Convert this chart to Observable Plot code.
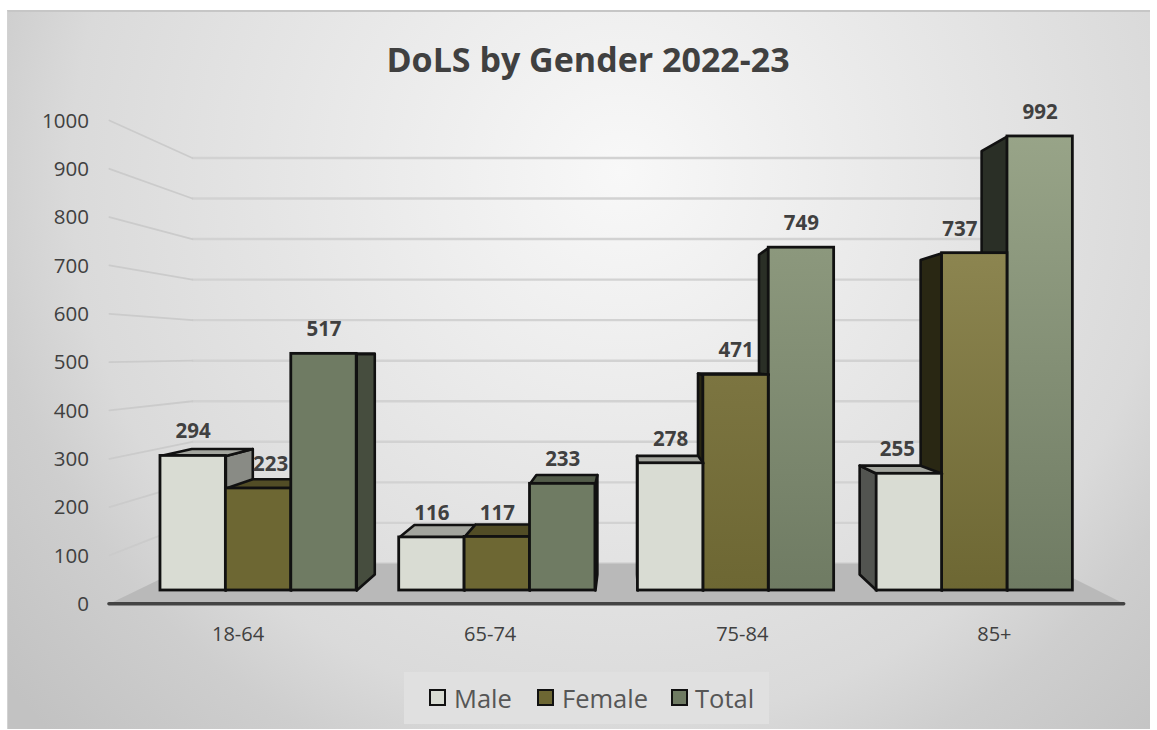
<!DOCTYPE html>
<html>
<head>
<meta charset="utf-8">
<script src="https://cdn.jsdelivr.net/npm/d3@7"></script>
<script src="https://cdn.jsdelivr.net/npm/@observablehq/plot@0.6"></script>
<style>
  html, body { margin: 0; padding: 0; background: #fff; }
  #page { position: relative; width: 1157px; height: 730px; overflow: hidden; font-family: "Open Sans", sans-serif; }
  #panel { position: absolute; left: 7px; top: 10px; width: 1143px; height: 719px; box-sizing: border-box;
    border-top: 2px solid #c6c6c6; border-left: 1px solid #d2d2d2;
    background: radial-gradient(circle 800px at 613px 160px, #f8f8f8 0px, #dadada 550px, #cecece 640px, #c2c2c2 800px); }
  #title { position: absolute; left: 0; top: 37px; width: 1176px; text-align: center; font-size: 34px; font-weight: 700; color: #404040; line-height: 44px; }
  #chart { position: absolute; left: 0; top: 0; }
  #legend { position: absolute; left: 404px; top: 672px; width: 365px; height: 52px; background: #e0e0e0; }
  #legend .sw { position: absolute; top: 17px; width: 17px; height: 17px; box-sizing: border-box; border: 2px solid #111; }
  #legend .lb { position: absolute; top: 8px; font-size: 25.5px; line-height: 36px; color: #565656; }
</style>
</head>
<body>
<div id="page">
  <div id="panel"></div>
  <div id="title">DoLS by Gender 2022-23</div>
  <div id="chart"></div>
  <div id="legend"></div>
</div>
<script>
const categories = ["18-64", "65-74", "75-84", "85+"];
const seriesNames = ["Male", "Female", "Total"];
const male = [294, 116, 278, 255];
const female = [223, 117, 471, 737];
const total = [517, 233, 749, 992];
const tickValues = [0, 100, 200, 300, 400, 500, 600, 700, 800, 900, 1000];

const seriesValues = [male, female, total];
const frontColors = ["#d9dcd3", "#6d6733", "#6f7b63"];
const lightColors = ["#d9dcd3", "#9a925d", "#98a488"];

// Perspective model of the 3-D chart, in data units (p = bar widths along x, v = value)
const groupStep = 3.65;
const vpP = 7.095, vpV = 518;
const depthBar = 0.0675, depthFront = -0.056, depthBack = 0.114;
const floorLeft = -0.363, floorRight = 14.33;
const projP = (p, k) => p + k * (vpP - p);
const projV = (v, k) => v + k * (vpV - v);

const shade = (c, f) => { const r = d3.rgb(c); return d3.rgb(r.r * f, r.g * f, r.b * f).formatHex(); };
const poly = (pts) => pts.map(([p, v, k]) => ({x: projP(p, k), y: projV(v, k)}));
const faceStyle = {x: "x", y: "y", curve: "linear-closed", stroke: "#111", strokeWidth: 2.6, strokeLinejoin: "round"};

const bars = [];
categories.forEach((cat, g) => seriesNames.forEach((name, s) => {
  bars.push({cat, g, s, name, value: seriesValues[s][g], p: g * groupStep + s});
}));
const painted = bars.slice().sort((a, b) => Math.abs(b.p + 0.5 - vpP) - Math.abs(a.p + 0.5 - vpP));

const lift = (b) => (b.p > vpP && b.value > 300) ? Math.pow((b.value - 300) / 692, 0.8) : 0;
const gradId = (b) => `bar-${b.g}-${b.s}`;

const defsMark = () => {
  const defs = d3.create("svg:defs");
  bars.forEach((b) => {
    const base = frontColors[b.s];
    const top = d3.interpolateRgb(base, lightColors[b.s])(lift(b));
    const lg = defs.append("linearGradient").attr("id", gradId(b)).attr("x1", 0).attr("x2", 0).attr("y1", 0).attr("y2", 1);
    lg.append("stop").attr("offset", "0%").attr("stop-color", top);
    lg.append("stop").attr("offset", "100%").attr("stop-color", base);
  });
  return defs.node();
};

const barMarks = painted.flatMap((b) => {
  const base = frontColors[b.s];
  const leftOfVp = b.p + 0.5 < vpP;
  const edge = leftOfVp ? b.p + 1 : b.p;
  const out = [];
  out.push(Plot.line(poly([[edge, b.value, 0], [edge, b.value, depthBar], [edge, 0, depthBar], [edge, 0, 0]]),
    {...faceStyle, fill: shade(base, leftOfVp ? 0.63 : 0.38)}));
  if (b.value < vpV) {
    out.push(Plot.line(poly([[b.p, b.value, 0], [b.p, b.value, depthBar], [b.p + 1, b.value, depthBar], [b.p + 1, b.value, 0]]),
      {...faceStyle, fill: shade(base, 0.75)}));
  }
  out.push(Plot.rect([b], {
    x1: (d) => d.p, x2: (d) => d.p + 1, y1: 0, y2: (d) => d.value,
    fill: `url(#${gradId(b)})`, stroke: "#111", strokeWidth: 2.8
  }));
  return out;
});

const labelNudge = {"Female|18-64": 12, "Male|85+": -12, "Female|85+": -15};

const chart = Plot.plot({
  width: 1157,
  height: 660,
  marginTop: 0, marginRight: 0, marginBottom: 0, marginLeft: 0,
  style: {background: "transparent", overflow: "visible"},
  x: {domain: [-2.446, 15.244], range: [0, 1157], axis: null},
  y: {domain: [0, 1000], range: [590, 132.3], axis: null},
  marks: [
    defsMark,
    // back wall grid
    Plot.ruleY(tickValues, {
      y: (d) => projV(d, depthBack),
      x1: projP(floorLeft, depthBack), x2: projP(floorRight, depthBack),
      stroke: "#d2d2d2", strokeWidth: 2.4
    }),
    // side wall grid
    Plot.line(tickValues.filter((d) => d > 0).flatMap((d) => [
      {t: d, x: projP(floorLeft, depthFront), y: projV(d, depthFront)},
      {t: d, x: projP(floorLeft, depthBack), y: projV(d, depthBack)}
    ]), {x: "x", y: "y", z: "t", stroke: "#cbcbcb", strokeWidth: 1.8}),
    // floor
    Plot.line(poly([[floorLeft, 0, depthFront], [floorLeft, 0, depthBack], [floorRight, 0, depthBack], [floorRight, 0, depthFront]]),
      {x: "x", y: "y", curve: "linear-closed", fill: "#b9b9b9", stroke: "none"}),
    ...barMarks,
    // axis line
    Plot.ruleY([projV(0, depthFront)], {
      y: (d) => d, x1: projP(floorLeft, depthFront), x2: projP(floorRight, depthFront),
      stroke: "#434343", strokeWidth: 3.4, strokeLinecap: "round"
    }),
    // value axis labels
    Plot.text(tickValues, {
      x: () => projP(floorLeft, depthFront), y: (d) => projV(d, depthFront), text: (d) => String(d),
      textAnchor: "end", dx: -20.5, dy: 0.5, fontSize: 20.5, fill: "#404040", fontFamily: "Open Sans"
    }),
    // category labels
    Plot.text(categories, {
      x: (d, i) => projP(i * groupStep + 1.5, depthFront), y: () => projV(0, depthFront), text: (d) => d,
      dy: 31, fontSize: 20, fill: "#404040", fontFamily: "Open Sans"
    }),
    // data labels
    ...bars.map((b) => Plot.text([b], {
      x: (d) => d.p + 0.5, y: (d) => d.value, text: (d) => String(d.value),
      dx: labelNudge[`${b.name}|${b.cat}`] || 0, dy: -24,
      fontSize: 20.5, fontWeight: 700, fill: "#404040", fontFamily: "Open Sans"
    }))
  ]
});
document.getElementById("chart").appendChild(chart);

const legend = d3.select("#legend");
const swatchX = [25, 133, 267];
const labelX = [50, 158, 291];
seriesNames.forEach((name, i) => {
  legend.append("div").attr("class", "sw").style("left", swatchX[i] + "px").style("background", frontColors[i]);
  legend.append("div").attr("class", "lb").style("left", labelX[i] + "px").text(name);
});
</script>
</body>
</html>
